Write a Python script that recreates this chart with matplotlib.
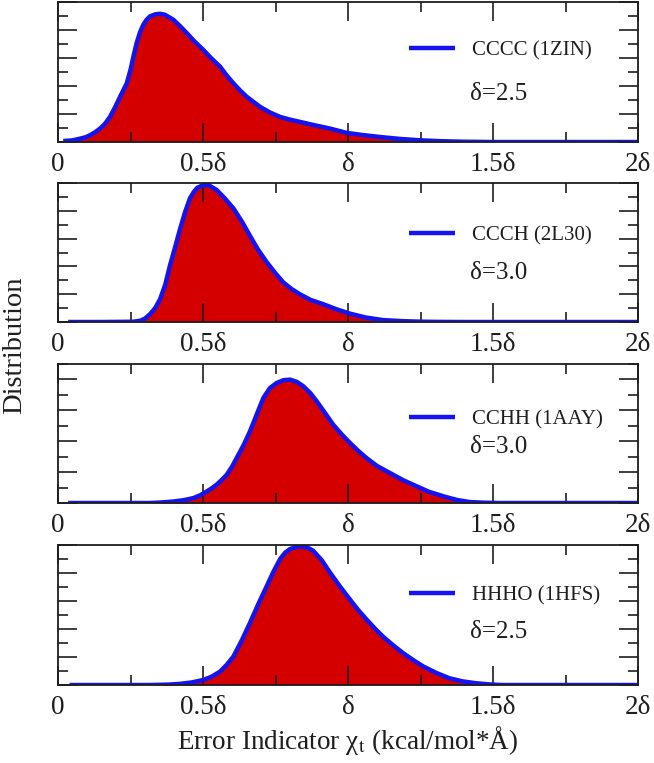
import matplotlib
matplotlib.use("Agg")
import matplotlib.pyplot as plt
from matplotlib.ticker import MultipleLocator, FixedLocator, NullFormatter

plt.rcParams['font.family'] = ['Liberation Serif', 'DejaVu Serif']
plt.rcParams['mathtext.fontset'] = 'stix'

# ---- data (x in units of delta, y in arbitrary distribution units) ----
labels = ["CCCC (1ZIN)", "CCCH (2L30)", "CCHH (1AAY)", "HHHO (1HFS)"]
deltas = ["δ=2.5", "δ=3.0", "δ=3.0", "δ=2.5"]
ymax = [10, 10, 9, 10]

x1 = [0.018, 0.05, 0.076, 0.095, 0.11, 0.128, 0.145, 0.162, 0.179, 0.196, 0.214, 0.237,
      0.25, 0.26, 0.271, 0.283, 0.294, 0.305, 0.317, 0.335, 0.352, 0.369, 0.398, 0.42,
      0.444, 0.47, 0.501, 0.53, 0.559, 0.58, 0.605, 0.628, 0.651, 0.675, 0.697, 0.73,
      0.766, 0.80, 0.834, 0.88, 0.938, 0.996, 1.05, 1.11, 1.18, 1.25, 1.32, 1.40, 1.5,
      1.6, 1.8, 2.0]
y1 = [0.07, 0.12, 0.24, 0.34, 0.48, 0.7, 0.96, 1.3, 1.79, 2.45, 3.23, 4.19,
      5.15, 6.1, 7.06, 7.85, 8.37, 8.72, 8.97, 9.12, 9.16, 9.09, 8.73, 8.3,
      7.78, 7.2, 6.58, 5.95, 5.38, 4.8, 4.19, 3.68, 3.23, 2.85, 2.51, 2.12,
      1.79, 1.6, 1.44, 1.22, 0.96, 0.65, 0.5, 0.36, 0.22, 0.12, 0.06, 0.02, 0.0,
      0.0, 0.0, 0.0]

x2 = [0.035, 0.15, 0.26, 0.285, 0.30, 0.317, 0.335, 0.352, 0.37, 0.386, 0.404, 0.421,
      0.438, 0.455, 0.468, 0.48, 0.501, 0.52, 0.547, 0.575, 0.605, 0.635, 0.662, 0.69,
      0.72, 0.75, 0.777, 0.805, 0.834, 0.87, 0.915, 0.96, 1.007, 1.06, 1.12, 1.18, 1.237,
      1.3, 1.4, 1.7, 2.0]
y2 = [0.0, 0.0, 0.02, 0.1, 0.25, 0.56, 1.0, 1.64, 2.7, 4.06, 5.4, 6.7,
      7.9, 8.9, 9.35, 9.65, 9.86, 9.84, 9.5, 8.9, 8.17, 7.2, 6.2, 5.2,
      4.3, 3.5, 2.85, 2.38, 2.0, 1.6, 1.28, 0.92, 0.6, 0.33, 0.14, 0.07, 0.03,
      0.01, 0.0, 0.0, 0.0]

x3 = [0.035, 0.2, 0.317, 0.36, 0.40, 0.435, 0.467, 0.49, 0.513, 0.53, 0.547, 0.565,
      0.582, 0.6, 0.616, 0.64, 0.662, 0.685, 0.708, 0.731, 0.754, 0.777, 0.80, 0.823,
      0.846, 0.87, 0.892, 0.92, 0.949, 0.978, 1.007, 1.035, 1.064, 1.1, 1.145, 1.19,
      1.237, 1.28, 1.33, 1.375, 1.42, 1.47, 1.52, 1.8, 2.0]
y3 = [0.0, 0.0, 0.0, 0.04, 0.1, 0.19, 0.32, 0.5, 0.75, 0.95, 1.19, 1.5,
      1.83, 2.35, 2.91, 3.75, 4.64, 5.72, 6.8, 7.45, 7.77, 7.95, 7.99, 7.85,
      7.56, 7.12, 6.59, 5.85, 5.07, 4.45, 3.89, 3.38, 2.91, 2.4, 1.94, 1.48,
      1.08, 0.72, 0.43, 0.2, 0.06, 0.02, 0.0, 0.0, 0.0]

x4 = [0.04, 0.2, 0.317, 0.38, 0.42, 0.46, 0.501, 0.53, 0.559, 0.582, 0.605, 0.634,
      0.662, 0.69, 0.72, 0.743, 0.766, 0.783, 0.80, 0.82, 0.84, 0.86, 0.88, 0.91,
      0.938, 0.972, 1.007, 1.035, 1.064, 1.092, 1.12, 1.155, 1.19, 1.225, 1.26, 1.305,
      1.35, 1.395, 1.444, 1.49, 1.53, 1.8, 2.0]
y4 = [0.0, 0.0, 0.0, 0.03, 0.08, 0.18, 0.36, 0.6, 0.96, 1.45, 2.04, 3.2,
      4.44, 5.75, 7.07, 8.1, 9.0, 9.45, 9.71, 9.86, 9.9, 9.82, 9.59, 8.9,
      8.03, 7.05, 6.1, 5.36, 4.68, 4.05, 3.47, 2.85, 2.28, 1.78, 1.32, 0.86,
      0.48, 0.26, 0.12, 0.04, 0.0, 0.0, 0.0]

xs = [x1, x2, x3, x4]
ys = [y1, y2, y3, y4]

xtick_vals = [0, 0.5, 1.0, 1.5, 2.0]
xtick_labels = ["0", "0.5δ", "δ", "1.5δ", "2δ"]

# ---- figure ----
W, H = 654, 763
fig = plt.figure(figsize=(W / 100, H / 100), dpi=100)

panel_px = [(2, 142), (183, 322), (364, 503), (545, 685)]
left_px, right_px = 58, 638
legend_y = [0.65, 0.62, 0.60, 0.64]
delta_y = [0.34, 0.35, 0.40, 0.38]

red = '#d40000'
blue = '#1414f0'
ink = '#1e1e1e'

for i in range(4):
    top, bot = panel_px[i]
    ax = fig.add_axes([left_px / W, 1 - bot / H, (right_px - left_px) / W, (bot - top) / H])
    ax.fill_between(xs[i], 0, ys[i], color=red, lw=0, zorder=1)
    ax.plot(xs[i], ys[i], color=blue, lw=3.2, label=labels[i], zorder=2,
            solid_capstyle='butt', solid_joinstyle='round')
    ax.set_xlim(0, 2)
    ax.set_ylim(0, ymax[i])
    ax.xaxis.set_major_locator(FixedLocator(xtick_vals))
    ax.set_xticklabels(xtick_labels)
    ax.xaxis.set_minor_locator(MultipleLocator(0.25))
    ax.yaxis.set_major_locator(MultipleLocator(2))
    ax.yaxis.set_minor_locator(MultipleLocator(1))
    ax.yaxis.set_major_formatter(NullFormatter())
    ax.tick_params(which='both', direction='in', top=True, right=True, width=1.2,
                   color=ink)
    ax.tick_params(which='major', length=14)
    ax.tick_params(which='minor', length=7.5)
    ax.tick_params(axis='x', which='major', labelsize=19.5, pad=7, labelcolor=ink)
    for s in ax.spines.values():
        s.set_linewidth(1.3)
        s.set_color(ink)
    leg = ax.legend(loc='center left', bbox_to_anchor=(0.605, legend_y[i]), frameon=False,
                    fontsize=15, handlelength=2.2, handletextpad=0.85, borderpad=0,
                    borderaxespad=0)
    for t in leg.get_texts():
        t.set_color(ink)
    ax.text(0.71, delta_y[i], deltas[i], transform=ax.transAxes, fontsize=18,
            ha='left', va='center', color=ink)

fig.text(0.022, 0.548, "Distribution", rotation=90, ha='center', va='center',
         fontsize=20.5, color=ink)
fig.text((left_px + right_px) / 2 / W, 0.018, r"Error Indicator χ$_\mathrm{t}$ (kcal/mol*Å)",
         ha='center', va='baseline', fontsize=19.5, color=ink)

fig.savefig("out.png", dpi=100)
